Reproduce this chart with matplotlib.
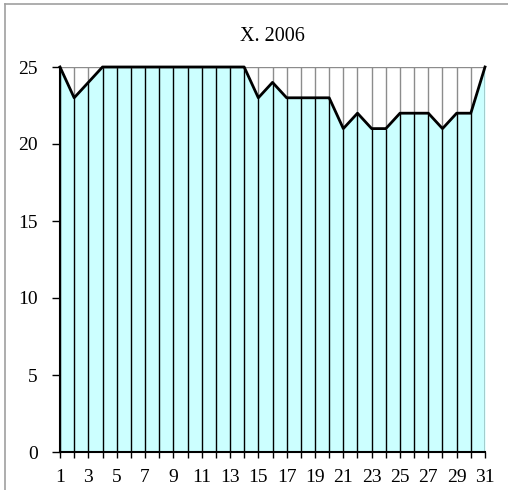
import matplotlib
matplotlib.use("Agg")
import matplotlib.pyplot as plt
from matplotlib.lines import Line2D

days = list(range(1, 32))
values = [25, 23, 24, 25, 25, 25, 25, 25, 25, 25,
          25, 25, 25, 25, 23, 24, 23, 23, 23, 23,
          21, 22, 21, 21, 22, 22, 22, 21, 22, 22, 25]
y_ticks = [0, 5, 10, 15, 20, 25]
x_labels = [str(d) if d % 2 == 1 else "" for d in days]
title = "X. 2006"

plt.rcParams['font.family'] = ['Liberation Serif', 'DejaVu Serif']

fig = plt.figure(figsize=(5.08, 4.9), dpi=100)
ax = fig.add_axes([60/508, 1 - 452/490, 425/508, 385/490])

# chart object frame, only top and left edges are inside the picture
fx, fy = 5/508, 1 - 4.5/490
fig.lines.append(Line2D([fx, 1], [fy, fy], transform=fig.transFigure, color='#a0a0a0', linewidth=1.2))
fig.lines.append(Line2D([fx, fx], [0, fy], transform=fig.transFigure, color='#a0a0a0', linewidth=1.2))

ax.fill_between(days, values, 0, color='#ccffff', linewidth=0, zorder=1)
ax.vlines(days, values, 25, color='#8c8c8c', linewidth=1, zorder=2)
ax.vlines(days, 0, values, color='black', linewidth=1, zorder=2)
ax.axhline(25, color='#8c8c8c', linewidth=1, zorder=2)
ax.plot(days, values, color='black', linewidth=2, zorder=3, clip_on=False)

ax.set_xlim(1, 31)
ax.set_ylim(0, 25)
ax.set_xticks(days)
ax.set_xticklabels(x_labels)
ax.set_yticks(y_ticks)
ax.tick_params(axis='x', length=4, width=1, direction='out', labelsize=14, pad=8)
ax.tick_params(axis='y', length=6, width=1, direction='out', labelsize=14, pad=10)

for s in ['top', 'right']:
    ax.spines[s].set_visible(False)
ax.spines['left'].set_linewidth(1.5)
ax.spines['bottom'].set_linewidth(1.5)
ax.spines['left'].set_zorder(4)
ax.spines['bottom'].set_zorder(4)

ax.set_title(title, fontsize=14.5, pad=19)

fig.savefig("out.png", dpi=100)
